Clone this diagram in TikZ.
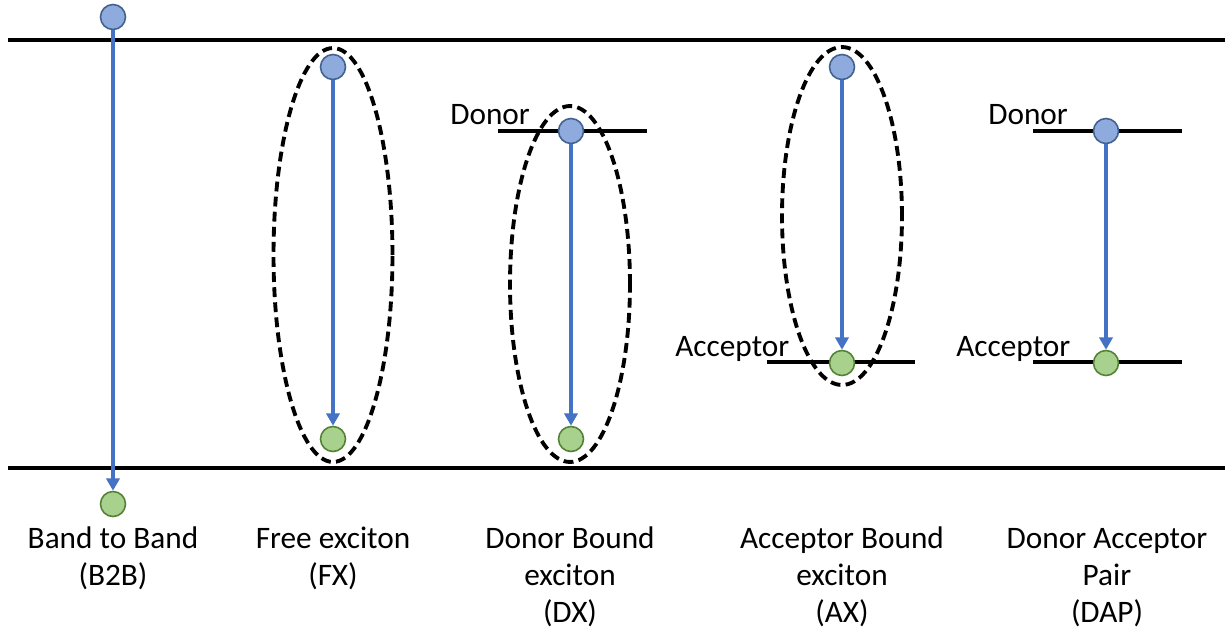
\documentclass[tikz,border=0pt]{standalone}
\usepackage{fontspec}
\setmainfont{Carlito}
\usetikzlibrary{arrows.meta}
\definecolor{eblue}{HTML}{8FAADC}
\definecolor{eblueb}{HTML}{41618F}
\definecolor{hgreen}{HTML}{A9D18E}
\definecolor{hgreenb}{HTML}{548235}
\definecolor{arrblue}{HTML}{4472C4}
\tikzset{
  elec/.style={circle, draw=eblueb, fill=eblue, line width=0.9pt, minimum size=0.5cm, inner sep=0pt},
  hole/.style={circle, draw=hgreenb, fill=hgreen, line width=0.9pt, minimum size=0.5cm, inner sep=0pt},
  trans/.style={draw=arrblue, line width=2.4pt, -{Triangle[length=7pt,width=7.5pt]}},
  band/.style={line width=2.8pt, black},
  level/.style={line width=2.4pt, black},
  exc/.style={line width=2.2pt, dash pattern=on 5.6pt off 3pt},
  lbl/.style={font=\fontsize{17.8}{21}\selectfont, align=center, anchor=base, inner sep=0pt},
  lvl/.style={font=\fontsize{17.8}{21}\selectfont, inner sep=0pt}
}
\begin{document}
\begin{tikzpicture}[x=0.02cm, y=-0.02cm]
\useasboundingbox (0,0) rectangle (1225,632);
% bands
\coordinate (cbl) at (8,40); \coordinate (cbr) at (1225,40);
\coordinate (vbl) at (8,468); \coordinate (vbr) at (1225,468);
\draw[band] (cbl) -- (cbr);
\draw[band] (vbl) -- (vbr);
% levels
\coordinate (d1l) at (498,131); \coordinate (d1r) at (647,131);
\coordinate (a1l) at (767,362); \coordinate (a1r) at (915,362);
\coordinate (d2l) at (1033,131); \coordinate (d2r) at (1182,131);
\coordinate (a2l) at (1033,362); \coordinate (a2r) at (1182,362);
\draw[level] (d1l) -- (d1r);
\draw[level] (a1l) -- (a1r);
\draw[level] (d2l) -- (d2r);
\draw[level] (a2l) -- (a2r);
% exciton ellipses
\draw[exc] (333,255) ellipse [x radius=1.19cm, y radius=4.14cm];
\draw[exc] (570,284) ellipse [x radius=1.2cm, y radius=3.56cm];
\draw[exc] (842,216) ellipse [x radius=1.2cm, y radius=3.38cm];
% carriers
\node[elec] (e1) at (113,17) {};
\node[hole] (h1) at (113,504) {};
\node[elec] (e2) at (333,67) {};
\node[hole] (h2) at (333,439) {};
\node[elec] (e3) at (571,131) {};
\node[hole] (h3) at (571,439) {};
\node[elec] (e4) at (842,67) {};
\node[hole] (h4) at (842,363) {};
\node[elec] (e5) at (1106,131) {};
\node[hole] (h5) at (1106,363) {};
% transitions
\draw[trans] (e1) -- (h1);
\draw[trans] (e2) -- (h2);
\draw[trans] (e3) -- (h3);
\draw[trans] (e4) -- (h4);
\draw[trans] (e5) -- (h5);
% level labels
\node[lvl, anchor=base west] (dl1) at (450,124) {Donor};
\node[lvl, anchor=base west] (al1) at (675,356) {Acceptor};
\node[lvl, anchor=base west] (dl2) at (988,124) {Donor};
\node[lvl, anchor=base west] (al2) at (956,356) {Acceptor};
% captions
\node[lbl] (t1) at (113,585) {Band to Band\\(B2B)};
\node[lbl] (t2) at (333,585) {Free exciton\\(FX)};
\node[lbl] (t3) at (570,622) {Donor Bound\\exciton\\(DX)};
\node[lbl] (t4) at (842,622) {Acceptor Bound\\exciton\\(AX)};
\node[lbl] (t5) at (1107,622) {Donor Acceptor\\Pair\\(DAP)};
\end{tikzpicture}
\end{document}
